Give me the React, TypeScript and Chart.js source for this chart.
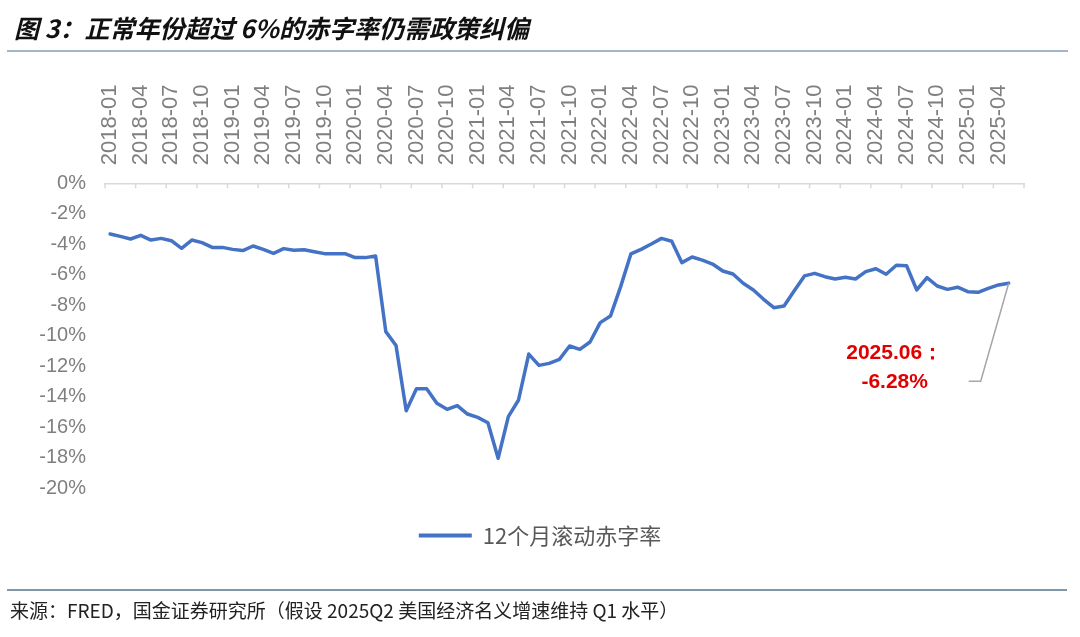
import React, { useEffect, useRef } from 'react';
import { Chart, registerables } from 'chart.js';

Chart.register(...registerables);

const TITLE = '图 3：正常年份超过 6%的赤字率仍需政策纠偏';
const SOURCE = '来源：FRED，国金证券研究所（假设 2025Q2 美国经济名义增速维持 Q1 水平）';
const SERIES_NAME = '12个月滚动赤字率';

const YEARS = [2018, 2019, 2020, 2021, 2022, 2023, 2024, 2025];
const MONTHS = ['01', '02', '03', '04', '05', '06', '07', '08', '09', '10', '11', '12'];
const LAST_LABEL = '2025-06';

const CATEGORIES: string[] = [];
for (const y of YEARS) {
  for (const m of MONTHS) {
    const lab = `${y}-${m}`;
    if (CATEGORIES.length === 0 || CATEGORIES[CATEGORIES.length - 1] !== LAST_LABEL) CATEGORIES.push(lab);
  }
}

// 12-month rolling deficit ratio (%), 2018-01 onward
const DEFICIT_2018 = [-3.32, -3.48, -3.65, -3.41, -3.72, -3.61, -3.76, -4.26, -3.72, -3.89, -4.2, -4.2];
const DEFICIT_2019 = [-4.33, -4.41, -4.11, -4.33, -4.59, -4.28, -4.39, -4.35, -4.48, -4.61, -4.61, -4.61];
const DEFICIT_2020 = [-4.87, -4.87, -4.77, -9.72, -10.63, -14.9, -13.46, -13.46, -14.42, -14.81, -14.57, -15.12];
const DEFICIT_2021 = [-15.34, -15.69, -18.02, -15.29, -14.2, -11.19, -11.93, -11.8, -11.54, -10.66, -10.88, -10.4];
const DEFICIT_2022 = [-9.13, -8.7, -6.77, -4.63, -4.33, -3.98, -3.61, -3.8, -5.2, -4.83, -5.03, -5.29];
const DEFICIT_2023 = [-5.75, -5.94, -6.55, -6.99, -7.6, -8.15, -8.04, -7.04, -6.07, -5.9, -6.12, -6.27];
const DEFICIT_2024 = [-6.16, -6.27, -5.79, -5.6, -5.96, -5.37, -5.4, -6.99, -6.18, -6.73, -6.95, -6.81];
const DEFICIT_2025 = [-7.1, -7.14, -6.88, -6.66, -6.55];

const DEFICIT = [
  ...DEFICIT_2018, ...DEFICIT_2019, ...DEFICIT_2020, ...DEFICIT_2021,
  ...DEFICIT_2022, ...DEFICIT_2023, ...DEFICIT_2024, ...DEFICIT_2025,
];

const Y_MIN = -20;
const Y_MAX = 0;
const Y_STEP = 2;
const LABEL_EVERY = 3;

const ANNOT_LINES = ['2025.06：', '-6.28%'];

const BLUE = '#4472C4';
const GRAY_TEXT = '#7f7f7f';
const AXIS_GRAY = '#d9d9d9';
const X_FONT_SIZE = 22;
const X_LINE_HEIGHT = 1.2;

export default function App() {
  const ref = useRef<HTMLCanvasElement>(null);

  useEffect(() => {
    const canvas = ref.current;
    if (!canvas) return;

    const innerTicks = {
      id: 'innerTicks',
      afterDraw(chart: any) {
        const xs = chart.scales.x;
        const area = chart.chartArea;
        const ctx = chart.ctx;
        const step = xs.getPixelForValue(1) - xs.getPixelForValue(0);
        const start = xs.getPixelForValue(0) - step / 2;
        ctx.save();
        ctx.strokeStyle = AXIS_GRAY;
        ctx.lineWidth = 1.5;
        for (let i = 0; i <= CATEGORIES.length; i += LABEL_EVERY) {
          const px = start + i * step;
          ctx.beginPath();
          ctx.moveTo(px, area.top);
          ctx.lineTo(px, area.top + 5);
          ctx.stroke();
        }
        ctx.restore();
      },
    };

    const annotation = {
      id: 'lastAnnot',
      afterDatasetsDraw(chart: any) {
        const meta = chart.getDatasetMeta(0);
        const pt = meta.data[meta.data.length - 1];
        if (!pt) return;
        const ctx = chart.ctx;
        const x = pt.x;
        const y = pt.y;
        ctx.save();
        ctx.strokeStyle = '#a6a6a6';
        ctx.lineWidth = 1.5;
        ctx.beginPath();
        ctx.moveTo(x, y);
        ctx.lineTo(x - 28, y + 98);
        ctx.lineTo(x - 40, y + 98);
        ctx.stroke();
        ctx.fillStyle = '#E00000';
        ctx.font = 'bold 21px "Liberation Sans", Arial, sans-serif';
        ctx.textAlign = 'center';
        ctx.textBaseline = 'middle';
        ctx.fillText(ANNOT_LINES[0], x - 114, y + 70);
        ctx.fillText(ANNOT_LINES[1], x - 114, y + 99);
        ctx.restore();
      },
    };

    const chart = new Chart(canvas, {
      type: 'line',
      data: {
        labels: CATEGORIES,
        datasets: [
          {
            label: SERIES_NAME,
            data: DEFICIT,
            borderColor: BLUE,
            backgroundColor: BLUE,
            borderWidth: 3.5,
            pointRadius: 0,
            tension: 0,
            borderJoinStyle: 'round',
            borderCapStyle: 'round',
          },
        ],
      },
      options: {
        responsive: false,
        animation: false,
        devicePixelRatio: 1,
        layout: { padding: { left: 0, right: 0, top: 0, bottom: 80.5 } },
        plugins: {
          legend: {
            position: 'bottom',
            labels: {
              boxWidth: 53,
              boxHeight: 4,
              padding: 36,
              color: '#595959',
              font: { size: 22, family: '"Noto Sans CJK SC", "Liberation Sans", sans-serif' },
              generateLabels: (c: any) =>
                (Chart.defaults.plugins.legend.labels as any)
                  .generateLabels(c)
                  .map((l: any) => ({ ...l, lineWidth: 0, fillStyle: BLUE })),
            },
          },
          tooltip: { enabled: false },
        },
        scales: {
          x: {
            type: 'category',
            position: 'top',
            offset: true,
            grid: { display: false, drawTicks: false },
            border: { display: true, color: AXIS_GRAY, width: 1.5 },
            ticks: {
              autoSkip: false,
              maxRotation: 90,
              minRotation: 90,
              padding: 18,
              labelOffset: X_FONT_SIZE * X_LINE_HEIGHT,
              color: GRAY_TEXT,
              font: { size: X_FONT_SIZE, lineHeight: X_LINE_HEIGHT, family: '"Liberation Sans", Arial, sans-serif' },
              callback: (_v: any, i: number) => (i % LABEL_EVERY === 0 ? CATEGORIES[i] : ''),
            },
            afterFit: (s: any) => {
              s.height = 183.3;
            },
          },
          y: {
            type: 'linear',
            position: 'left',
            min: Y_MIN,
            max: Y_MAX,
            grid: { display: false, drawTicks: false },
            border: { display: false },
            ticks: {
              stepSize: Y_STEP,
              padding: 19,
              color: GRAY_TEXT,
              font: { size: 20, family: '"Liberation Sans", Arial, sans-serif' },
              callback: (v: any) => `${v}%`,
            },
            afterFit: (s: any) => {
              s.width = 105;
            },
          },
          pad: {
            type: 'linear',
            position: 'right',
            display: true,
            grid: { display: false, drawTicks: false },
            border: { display: false },
            ticks: { display: false },
            afterFit: (s: any) => {
              s.width = 56;
            },
          },
        },
      } as any,
      plugins: [innerTicks, annotation],
    });

    return () => chart.destroy();
  }, []);

  return (
    <div style={{ position: 'absolute', left: 0, top: 0, width: 1080, height: 637, background: '#fff', overflow: 'hidden' }}>
      <canvas ref={ref} width={1080} height={637} style={{ position: 'absolute', left: 0, top: 0, width: 1080, height: 637 }} />
      <div
        style={{
          position: 'absolute',
          left: 14,
          top: 9,
          fontSize: 25,
          lineHeight: '36px',
          fontWeight: 'bold',
          fontStyle: 'italic',
          fontFamily: '"Noto Sans CJK SC", sans-serif',
          color: '#111',
          whiteSpace: 'nowrap',
        }}
      >
        {TITLE}
      </div>
      <div style={{ position: 'absolute', left: 7, top: 50, width: 1061, height: 1.5, background: '#a3b5cb' }} />
      <div style={{ position: 'absolute', left: 7, top: 588.5, width: 1060, height: 2, background: '#7f98a8' }} />
      <div
        style={{
          position: 'absolute',
          left: 10,
          top: 597,
          fontSize: 19,
          lineHeight: '26px',
          fontFamily: '"Noto Sans CJK SC", sans-serif',
          color: '#222',
          whiteSpace: 'nowrap',
        }}
      >
        {SOURCE}
      </div>
    </div>
  );
}
